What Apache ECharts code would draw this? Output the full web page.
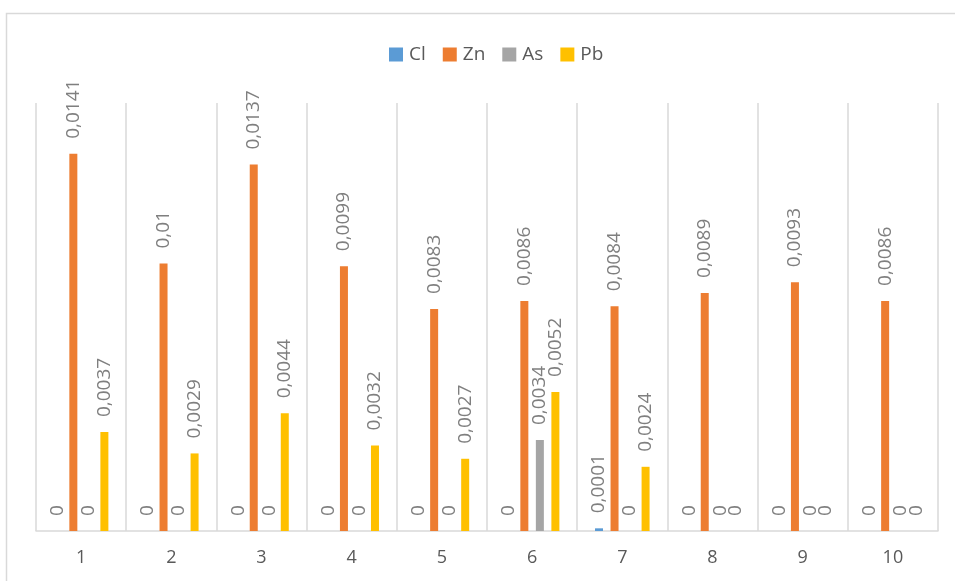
<!DOCTYPE html>
<html>
<head>
<meta charset="utf-8">
<script src="https://cdn.jsdelivr.net/npm/echarts@6/dist/echarts.min.js"></script>
<style>
  html, body { margin: 0; padding: 0; background: #ffffff; }
  #chart { width: 955px; height: 581px; }
</style>
</head>
<body>
<div id="chart"></div>
<script>
// Sample numbers along the x axis
const categories = ['1', '2', '3', '4', '5', '6', '7', '8', '9', '10'];

// Measured concentrations per element
const clValues = [0, 0, 0, 0, 0, 0, 0.0001, 0, 0, 0];
const znValues = [0.0141, 0.01, 0.0137, 0.0099, 0.0083, 0.0086, 0.0084, 0.0089, 0.0093, 0.0086];
const asValues = [0, 0, 0, 0, 0, 0.0034, 0, 0, 0, 0];
const pbValues = [0.0037, 0.0029, 0.0044, 0.0032, 0.0027, 0.0052, 0.0024, 0, 0, 0];

const seriesNames = ['Cl', 'Zn', 'As', 'Pb'];
const seriesColors = ['#5b9bd5', '#ed7d31', '#a5a5a5', '#ffc000'];
const seriesData = [clValues, znValues, asValues, pbValues];

const FONT = '"Open Sans", "Noto Sans", sans-serif';

// Decimal comma for the value labels
function decimalComma(v) {
  return String(v).replace('.', ',');
}

const chart = echarts.init(document.getElementById('chart'), null, { renderer: 'canvas' });

chart.setOption({
  animation: false,
  backgroundColor: '#ffffff',
  textStyle: { fontFamily: FONT },
  graphic: [{
    type: 'rect',
    shape: { x: 6.5, y: 13.5, width: 1000, height: 700 },
    style: { fill: 'none', stroke: '#d9d9d9', lineWidth: 1.5 },
    silent: true,
    z: -1
  }],
  legend: {
    data: seriesNames,
    left: 384,
    top: 40,
    itemWidth: 14,
    itemHeight: 14,
    itemGap: 17,
    icon: 'rect',
    textStyle: { color: '#595959', fontSize: 19, fontFamily: FONT, padding: [0, 0, 0, 1] }
  },
  grid: { left: 36, right: 17, top: 103, bottom: 50, containLabel: false },
  xAxis: {
    type: 'category',
    data: categories,
    boundaryGap: true,
    axisTick: { show: false },
    axisLine: { lineStyle: { color: '#d9d9d9', width: 1.5 } },
    axisLabel: { color: '#595959', fontSize: 18, fontFamily: FONT, margin: 18 },
    splitLine: { show: true, lineStyle: { color: '#d9d9d9', width: 1.5 } }
  },
  yAxis: {
    type: 'value',
    min: 0,
    max: 0.016,
    show: false,
    splitLine: { show: false }
  },
  series: seriesNames.map((name, i) => ({
    name: name,
    type: 'bar',
    data: seriesData[i],
    barWidth: 8,
    barGap: '94%',
    itemStyle: { color: seriesColors[i] },
    label: {
      show: true,
      position: 'top',
      rotate: 90,
      align: 'left',
      verticalAlign: 'middle',
      distance: 15,
      color: '#7f7f7f',
      fontSize: 19,
      fontFamily: FONT,
      formatter: p => decimalComma(p.value)
    }
  }))
});
</script>
</body>
</html>
